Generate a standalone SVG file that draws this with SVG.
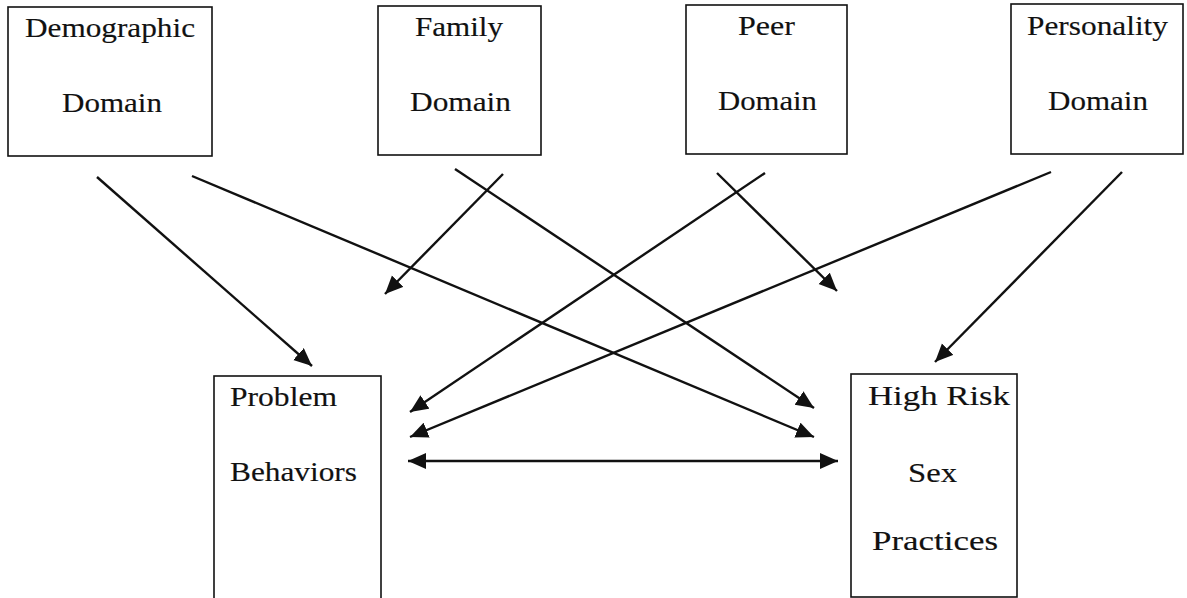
<svg xmlns="http://www.w3.org/2000/svg" width="1187" height="598" viewBox="0 0 1187 598">
<style>
.box{fill:#fff;stroke:#111;stroke-width:1.6}
.t{font-family:"Liberation Serif","Times New Roman",serif;font-size:27px;fill:#111;stroke:#111;stroke-width:0.15}
.c{stroke:#111;stroke-width:2.4;fill:none;marker-end:url(#ah)}
</style>
<defs>
<marker id="ah" markerUnits="userSpaceOnUse" markerWidth="20" markerHeight="18" refX="18" refY="8" orient="auto-start-reverse">
<path d="M0,0 L18,8 L0,16 z" fill="#111"/>
</marker>
</defs>
<rect width="1187" height="598" fill="#fff"/>
<g id="demographic">
<rect class="box" x="8" y="7" width="204" height="149"/>
<text class="t" x="25" y="37" textLength="170" lengthAdjust="spacingAndGlyphs">Demographic</text>
<text class="t" x="62" y="112" textLength="100" lengthAdjust="spacingAndGlyphs">Domain</text>
</g>
<g id="family">
<rect class="box" x="378" y="6" width="163" height="149"/>
<text class="t" x="415" y="36" textLength="88" lengthAdjust="spacingAndGlyphs">Family</text>
<text class="t" x="410" y="111" textLength="101" lengthAdjust="spacingAndGlyphs">Domain</text>
</g>
<g id="peer">
<rect class="box" x="686" y="5" width="161" height="149"/>
<text class="t" x="738" y="35" textLength="57" lengthAdjust="spacingAndGlyphs">Peer</text>
<text class="t" x="718" y="110" textLength="99" lengthAdjust="spacingAndGlyphs">Domain</text>
</g>
<g id="personality">
<rect class="box" x="1011" y="4" width="172" height="150"/>
<text class="t" x="1027" y="35" textLength="141" lengthAdjust="spacingAndGlyphs">Personality</text>
<text class="t" x="1048" y="110" textLength="100" lengthAdjust="spacingAndGlyphs">Domain</text>
</g>
<g id="problem">
<rect class="box" x="214" y="376" width="167" height="230"/>
<text class="t" x="230" y="406" textLength="107" lengthAdjust="spacingAndGlyphs">Problem</text>
<text class="t" x="230" y="481" textLength="127" lengthAdjust="spacingAndGlyphs">Behaviors</text>
</g>
<g id="highrisk">
<rect class="box" x="851" y="374" width="166" height="223"/>
<text class="t" x="868" y="405" textLength="142" lengthAdjust="spacingAndGlyphs">High Risk</text>
<text class="t" x="908" y="482" textLength="49" lengthAdjust="spacingAndGlyphs">Sex</text>
<text class="t" x="872" y="550" textLength="126" lengthAdjust="spacingAndGlyphs">Practices</text>
</g>
<g id="connectors">
<line class="c" x1="97" y1="177" x2="312" y2="366"/>
<line class="c" x1="192" y1="176" x2="814" y2="437"/>
<line class="c" x1="455" y1="169" x2="814" y2="408"/>
<line class="c" x1="503" y1="174" x2="385" y2="294"/>
<line class="c" x1="717" y1="173" x2="837" y2="291"/>
<line class="c" x1="765" y1="173" x2="410" y2="412"/>
<line class="c" x1="1051" y1="172" x2="410" y2="437"/>
<line class="c" x1="1122" y1="172" x2="935" y2="362"/>
<line class="c" x1="408" y1="461" x2="838" y2="461" style="marker-start:url(#ah)"/>
</g>
</svg>
